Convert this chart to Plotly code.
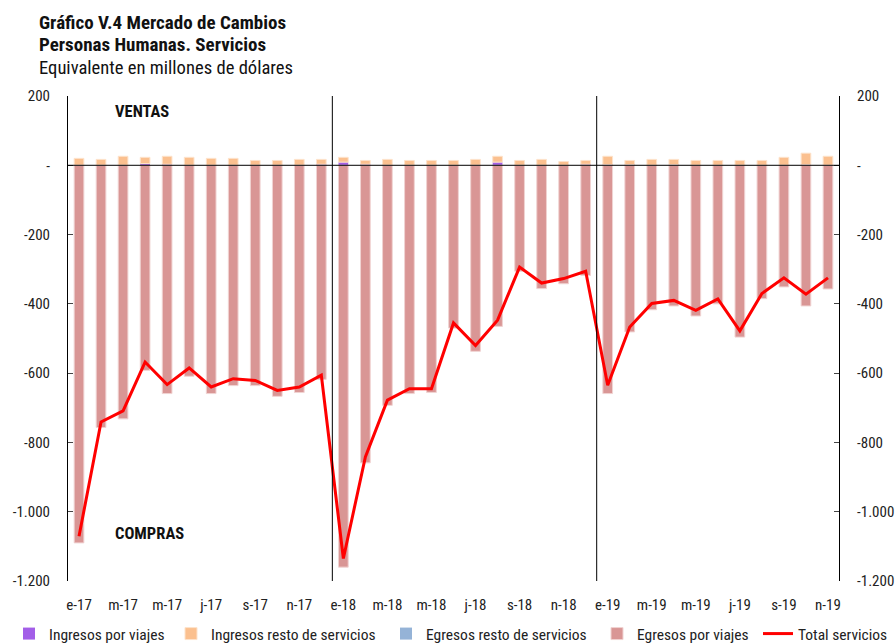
import plotly.graph_objects as go

# meses e-17 .. n-19
meses = ["e-17", "f-17", "m-17", "a-17", "m-17 ", "j-17", "j-17 ", "a-17 ", "s-17", "o-17", "n-17", "d-17",
         "e-18", "f-18", "m-18", "a-18", "m-18 ", "j-18", "j-18 ", "a-18 ", "s-18", "o-18", "n-18", "d-18",
         "e-19", "f-19", "m-19", "a-19", "m-19 ", "j-19", "j-19 ", "a-19 ", "s-19", "o-19", "n-19"]
tick_labels = ["e-17", "m-17", "m-17", "j-17", "s-17", "n-17",
               "e-18", "m-18", "m-18", "j-18", "s-18", "n-18",
               "e-19", "m-19", "m-19", "j-19", "s-19", "n-19"]

ingresos_viajes = [0, 0, 0, 5, 3, 0, 0, 0, 0, 0, 0, 3,
                   9, 3, 0, 0, 0, 0, 0, 9, 0, 0, 0, 3,
                   2, 2, 0, 2, 0, 0, 0, 0, 0, 2, 0]
ingresos_resto = [20, 17, 26, 18, 23, 23, 20, 20, 14, 14, 17, 14,
                  14, 11, 17, 14, 14, 14, 17, 17, 14, 17, 11, 11,
                  24, 12, 17, 15, 14, 14, 14, 14, 23, 33, 26]
egresos_resto = [0] * 35
egresos_viajes = [-1090, -757, -732, -592, -659, -609, -659, -636, -636, -667, -656, -618,
                  -1160, -859, -693, -659, -656, -470, -537, -465, -306, -356, -342, -318,
                  -659, -481, -417, -406, -435, -400, -496, -385, -351, -406, -357]
total = [-1071, -741, -709, -568, -633, -585, -640, -616, -621, -650, -640, -606,
         -1135, -842, -678, -645, -645, -455, -520, -447, -294, -340, -327, -306,
         -635, -467, -399, -390, -419, -386, -478, -370, -325, -372, -325]

y_ticks = [200, 0, -200, -400, -600, -800, -1000, -1200]
y_text = ["200", "-", "-200", "-400", "-600", "-800", "-1.000", "-1.200"]

FONT = "Roboto Condensed, DejaVu Sans Condensed, Liberation Sans Narrow, Roboto, sans-serif"
W, H = 896, 643
ML, MR, MT, MB = 68, 57, 96, 62
x_idx = list(range(len(meses)))


def px_x(px):
    return (px - ML) / (W - ML - MR)


def px_y(py):
    return (H - MB - py) / (H - MT - MB)


# una leyenda por serie, para ubicarlas en una sola fila como en el original
legend_x = [9, 171, 386, 597, 758]
legend_y = 1 - 634 / H

fig = go.Figure()
bar_w = 0.44
fig.add_trace(go.Bar(x=x_idx, y=ingresos_viajes, name="Ingresos por viajes", width=bar_w,
                     legend="legend", marker=dict(color="#a35ee8", line=dict(width=0))))
fig.add_trace(go.Bar(x=x_idx, y=ingresos_resto, name="Ingresos resto de servicios", width=bar_w,
                     legend="legend2", marker=dict(color="#fbc08f", line=dict(width=1, color="#fde3cc"))))
fig.add_trace(go.Bar(x=x_idx, y=egresos_resto, name="Egresos resto de servicios", width=bar_w,
                     legend="legend3", marker=dict(color="#95b3d7", line=dict(width=0))))
fig.add_trace(go.Bar(x=x_idx, y=egresos_viajes, name="Egresos por viajes", width=bar_w,
                     legend="legend4", marker=dict(color="#d99695", line=dict(width=1, color="#f0d3d2"))))
fig.add_trace(go.Scatter(x=x_idx, y=total, name="Total servicios", mode="lines",
                         legend="legend5", line=dict(color="#ff0000", width=3)))
# eje derecho (solo para las etiquetas)
fig.add_trace(go.Scatter(x=[0], y=[0], yaxis="y2", showlegend=False, mode="markers",
                         marker=dict(opacity=0), hoverinfo="skip"))

shapes = [dict(type="line", xref="paper", yref="y", x0=0, x1=1, y0=0, y1=0,
               line=dict(color="black", width=1))]
for sep in [11.5, 23.5]:
    shapes.append(dict(type="line", xref="x", yref="paper", x0=sep, x1=sep, y0=0, y1=1,
                       line=dict(color="black", width=1)))

yax = dict(range=[-1200, 200], tickvals=y_ticks, ticktext=y_text, ticks="inside", ticklen=5,
           showline=True, linecolor="black", linewidth=1, showgrid=False, zeroline=False,
           tickfont=dict(size=15, color="#222"), ticklabelstandoff=14)

legends = {}
for i, lx in enumerate(legend_x):
    key = "legend" if i == 0 else f"legend{i + 1}"
    legends[key] = dict(orientation="h", xref="container", yref="container",
                        x=lx / W, xanchor="left", y=legend_y, yanchor="middle",
                        font=dict(size=15.5, color="#222"), bgcolor="rgba(0,0,0,0)",
                        itemwidth=30)

titles = [("<b>Gráfico V.4 Mercado de Cambios</b>", 22, 19),
          ("<b>Personas Humanas. Servicios</b>", 45, 19),
          ("Equivalente en millones de dólares", 68, 18.6)]
annotations = [dict(text=t, xref="paper", yref="paper", x=px_x(37), y=px_y(ty),
                    xanchor="left", yanchor="middle", showarrow=False,
                    font=dict(size=fs, color="#111"))
               for t, ty, fs in titles]
annotations += [
    dict(text="<b>VENTAS</b>", xref="x", yref="y", x=2.86, y=156, showarrow=False,
         font=dict(size=16.5, color="#111")),
    dict(text="<b>COMPRAS</b>", xref="x", yref="y", x=3.18, y=-1062, showarrow=False,
         font=dict(size=16.5, color="#111")),
]

fig.update_layout(
    width=W, height=H,
    margin=dict(l=ML, r=MR, t=MT, b=MB, autoexpand=False),
    paper_bgcolor="white", plot_bgcolor="white",
    font=dict(family=FONT, color="#222"),
    barmode="relative", bargap=0.5,
    showlegend=True,
    xaxis=dict(range=[-0.5, 34.5], tickvals=x_idx[::2], ticktext=tick_labels, ticks="",
               showline=False, showgrid=False, zeroline=False,
               tickfont=dict(size=15, color="#222"), ticklabelstandoff=13),
    yaxis=yax,
    yaxis2=dict(yax, overlaying="y", side="right"),
    shapes=shapes,
    annotations=annotations,
    **legends,
)

# sin el margen por defecto del body, el grafico ocupa exactamente la ventana
fig.write_html("out.html", config={"displayModeBar": False},
               post_script="document.body.style.margin='0';")
